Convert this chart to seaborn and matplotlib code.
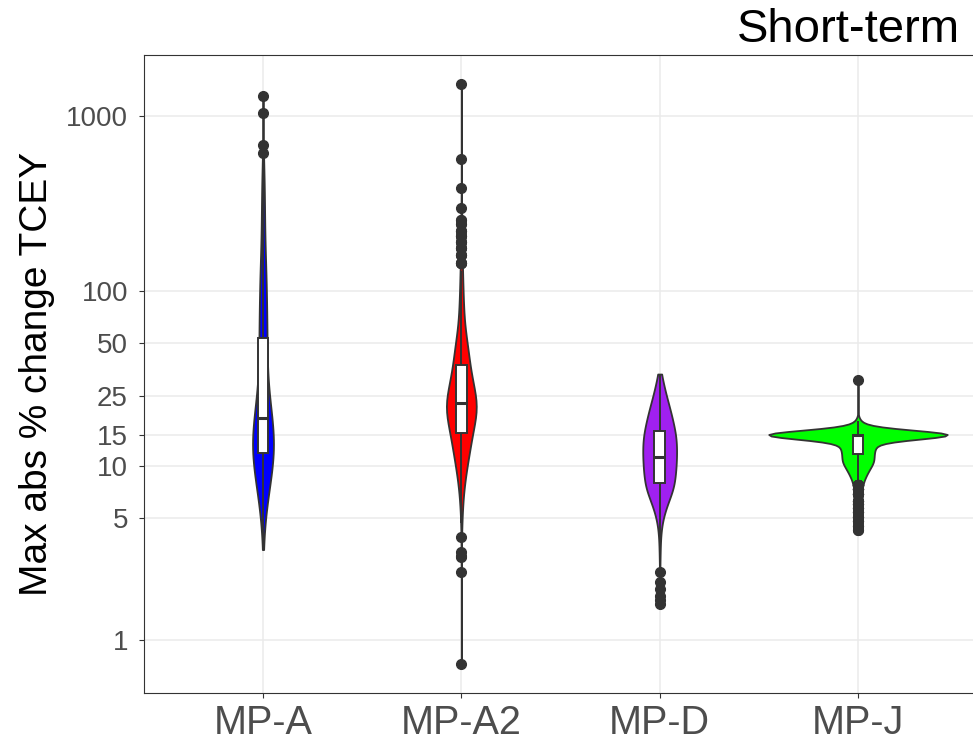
import numpy as np
import pandas as pd
import matplotlib
matplotlib.use("Agg")
import matplotlib.pyplot as plt
from matplotlib.ticker import NullLocator
import seaborn as sns

groups = ["MP-A", "MP-A2", "MP-D", "MP-J"]
colors = ["#0000FF", "#FF0000", "#A020F0", "#00FF00"]

# values, stored as value / how many runs gave it
mpa_vals = [3.3, 3.7, 4.1, 4.6, 5.3, 5.9, 6.5, 7.2, 8.0, 9.0, 10.2, 11.0,
            12, 13, 14, 15, 16.5, 17.8, 19.5, 21.5, 24, 27, 31, 35, 40, 46, 52,
            58, 66, 75, 85, 97, 110, 125, 145, 170, 200, 235, 275, 310,
            350, 400, 450, 500, 616, 681, 1040, 1303]
mpa_counts = [1, 2, 4, 7, 10, 14, 20, 28, 38, 48, 38, 40,
              48, 50, 46, 41, 34, 31, 40, 36, 34, 26, 24, 22, 22, 22, 24,
              22, 22, 20, 20, 19, 18, 24, 15, 14, 13, 11, 10, 7,
              9, 8, 8, 6, 1, 1, 1, 1]

mpa2_vals = [0.73, 2.46, 3.0, 3.05, 3.2, 3.9, 4.7, 5.3, 6.0, 6.7, 7.5, 8.4, 9.4,
             10.4, 11.5, 12.6, 13.8, 15.4, 16.5, 18.0, 19.5, 21.0, 22.7,
             24.5, 26.5, 28.7, 31, 34, 37.5, 39.5, 43, 47, 51, 56,
             65, 75, 87, 100, 115, 130, 145,
             160, 175, 190, 205, 220, 240, 256, 300, 390, 570, 1530]
mpa2_counts = [1, 1, 1, 1, 1, 1, 3, 5, 6, 8, 12, 17, 24,
               24, 30, 36, 38, 41, 42, 45, 45, 60, 58,
               46, 43, 40, 38, 36, 34, 13, 28, 25, 22, 20,
               18, 15, 12, 10, 8, 6, 4,
               3, 3, 3, 3, 3, 2, 2, 1, 1, 1, 1]

mpd_vals = [1.6, 1.7, 1.8, 1.96, 2.15, 2.46, 2.9, 3.2, 3.5, 4.0, 4.5, 5.0, 5.6,
            6.3, 7.1, 7.9, 8.9, 10, 11.2, 12.6, 14.1, 15.8, 17.8, 20, 22.4,
            25.1, 28.2, 31.6, 33.4]
mpd_counts = [1, 1, 1, 1, 1, 1, 2, 2, 3, 5, 8, 14, 28,
              46, 64, 76, 78, 82, 84, 84, 82, 78, 68, 56, 44,
              32, 22, 12, 3]

mpj_vals = [4.3, 4.5, 4.8, 5.1, 5.4, 5.7, 6.0, 6.3, 6.9, 7.3, 7.7,
            8.2, 8.7, 9.2, 9.7, 10.2, 10.7, 11.2, 11.7, 12.2, 12.7, 13.2,
            13.7, 14.2, 14.6, 15.0, 15.3, 15.7, 16.2, 17.0, 17.9, 30.8]
mpj_counts = [2, 3, 4, 5, 5, 5, 5, 6, 8, 10, 12,
              16, 20, 24, 28, 32, 35, 30, 30, 30, 30, 30,
              30, 30, 40, 410, 50, 30, 20, 12, 7, 1]

yticks = [1, 5, 10, 15, 25, 50, 100, 1000]

frames = []
for name, v, c in zip(groups, [mpa_vals, mpa2_vals, mpd_vals, mpj_vals],
                      [mpa_counts, mpa2_counts, mpd_counts, mpj_counts]):
    frames.append(pd.DataFrame({"mp": name, "tcey": np.repeat(v, c)}))
df = pd.concat(frames, ignore_index=True)


def nrd0(kde):
    # R's default bandwidth, as ggplot uses
    x = np.asarray(kde.dataset).ravel()
    sd = x.std(ddof=1)
    q1, q3 = np.percentile(x, [25, 75])
    h = 0.9 * min(sd, (q3 - q1) / 1.34) * len(x) ** -0.2
    return h / sd


sns.set_style("white")
plt.rcParams["font.family"] = ["Liberation Sans", "DejaVu Sans"]

fig = plt.figure(figsize=(9.73, 7.40), dpi=100)
ax = fig.add_axes([144 / 973, 47 / 740, 833 / 973, 638 / 740])

sns.violinplot(data=df, x="mp", y="tcey", hue="mp", order=groups,
               hue_order=groups, palette=colors, saturation=1,
               density_norm="area", common_norm=True, cut=0, width=0.9,
               inner=None, linewidth=1.3, linecolor="#333333",
               bw_method=nrd0, bw_adjust=1.3, log_scale=True, legend=False,
               ax=ax)
sns.boxplot(data=df, x="mp", y="tcey", order=groups, width=0.055,
            color="white", saturation=1, linecolor="#333333", linewidth=1.4,
            whis=1.5, showcaps=False, log_scale=True,
            medianprops=dict(linewidth=2.2),
            flierprops=dict(marker="o", markerfacecolor="#333333",
                            markeredgecolor="#333333", markersize=7),
            ax=ax)

lo = np.log10(df["tcey"].min())
hi = np.log10(df["tcey"].max())
pad = 0.05 * (hi - lo)
ax.set_ylim(10 ** (lo - pad), 10 ** (hi + pad))
ax.set_xlim(-0.6, 3.6)

ax.set_yticks(yticks, [str(t) for t in yticks])
ax.yaxis.set_minor_locator(NullLocator())
ax.grid(True, color="#EBEBEB", linewidth=1.1)
ax.set_axisbelow(True)

ax.tick_params(axis="y", labelsize=20, labelcolor="#4D4D4D", color="#333333",
               length=3.6, width=0.8, pad=8, left=True)
ax.tick_params(axis="x", labelsize=28.5, labelcolor="#4D4D4D", color="#333333",
               length=3.6, width=0.8, pad=4, bottom=True)
for s in ax.spines.values():
    s.set_color("#333333")
    s.set_linewidth(0.8)

ax.set_xlabel("")
ax.set_ylabel("Max abs % change TCEY", fontsize=28, color="black")
ax.yaxis.set_label_coords(-0.107, 0.5)

fig.text(960 / 973, 1 - 42 / 740, "Short-term", fontsize=34, ha="right",
         va="baseline", color="black")

fig.savefig("out.png", dpi=100)
